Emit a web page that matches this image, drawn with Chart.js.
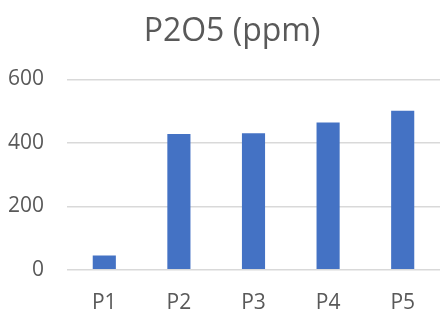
<!DOCTYPE html>
<html>
<head>
<meta charset="utf-8">
<script src="https://cdn.jsdelivr.net/npm/chart.js@4"></script>
<style>
  html,body{margin:0;padding:0;background:#fff;}
  #wrap{width:441px;height:312px;}
</style>
</head>
<body>
<div id="wrap"><canvas id="c" width="441" height="312"></canvas></div>
<script>
// données
const categories=['P1','P2','P3','P4','P5'];
const p2o5=[45,428,430,464,501];
const yTicks=[0,200,400,600];
const chartTitle='P2O5 (ppm)';

const txt='#595959', grid='#d9d9d9';
const font="'Open Sans', 'Noto Sans', sans-serif";

// le titre Excel est un peu décalé vers la droite
const shiftTitle={id:'shiftTitle',afterLayout(chart){ const t=chart.titleBlock; if(t){ t.left+=24; } }};

new Chart(document.getElementById('c').getContext('2d'),{
  type:'bar',
  data:{labels:categories,datasets:[{label:chartTitle,data:p2o5,backgroundColor:'#4472c4',barPercentage:0.62,categoryPercentage:0.5}]},
  options:{
    responsive:false,animation:false,
    layout:{padding:{left:0,right:1,top:0,bottom:-17}},
    plugins:{
      legend:{display:false},tooltip:{enabled:false},
      title:{display:true,text:chartTitle,color:txt,font:{family:font,size:32,weight:'normal'},padding:{top:13,bottom:28}}
    },
    scales:{
      x:{grid:{display:false},border:{display:false},ticks:{color:txt,font:{family:font,size:21},padding:13}},
      y:{min:0,max:600,afterBuildTicks:s=>{s.ticks=yTicks.map(v=>({value:v}));},
         afterFit:s=>{s.width=67;},
         grid:{color:grid,lineWidth:1.5,drawTicks:false},border:{display:false},
         ticks:{color:txt,font:{family:font,size:21},padding:23}}
    }
  },
  plugins:[shiftTitle]
});
</script>
</body>
</html>
